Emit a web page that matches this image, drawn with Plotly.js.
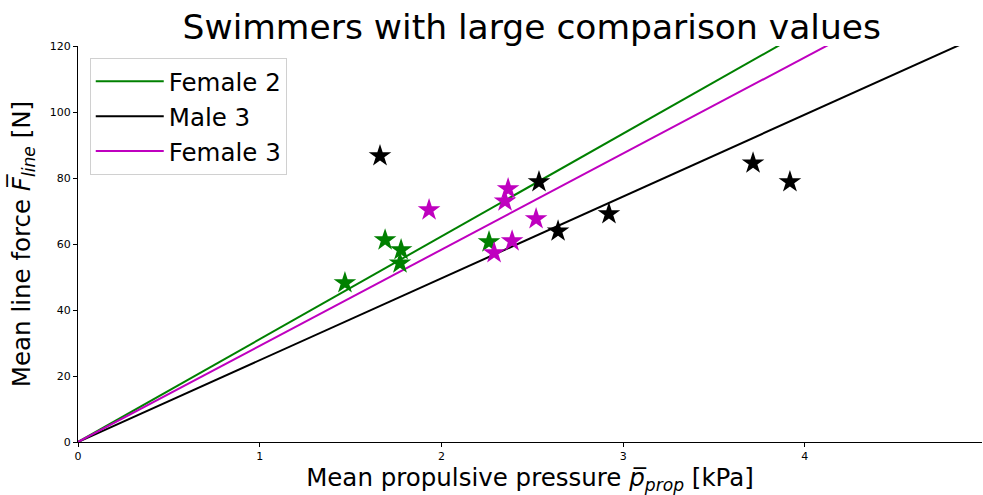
<!DOCTYPE html>
<html>
<head>
<meta charset="utf-8">
<script src="https://cdn.plot.ly/plotly-3.0.1.min.js"></script>
<style>html,body{margin:0;padding:0;background:#fff;}#chart{width:983px;height:495px;}</style>
</head>
<body>
<div id="chart"></div>
<script>
// Fitted lines (through origin) - endpoints
const seriesNames = ["Female 2", "Male 3", "Female 3"];
const seriesColors = ["#008000", "#000000", "#bf00bf"];
const lineX = [[0, 4.0], [0, 5.0], [0, 4.3]];
const lineY = [[0, 124.6], [0, 124.0], [0, 125.3]];

// Measured points
const female2X = [1.469, 1.690, 1.778, 1.772, 2.262];
const female2Y = [48.2, 61.2, 58.2, 54.2, 60.6];
const male3X = [1.662, 2.537, 2.642, 2.922, 3.715, 3.918];
const male3Y = [86.7, 78.8, 63.9, 69.1, 84.5, 78.8];
const female3X = [1.932, 2.367, 2.350, 2.521, 2.389, 2.290];
const female3Y = [70.3, 76.7, 73.0, 67.6, 60.9, 57.3];

const pointsX = [female2X, male3X, female3X];
const pointsY = [female2Y, male3Y, female3Y];

const xTicks = [0, 1, 2, 3, 4];
const yTicks = [0, 20, 40, 60, 80, 100, 120];

const traces = [];
for (let i = 0; i < 3; i++) {
  traces.push({
    x: lineX[i], y: lineY[i], mode: "lines", name: seriesNames[i],
    line: {color: seriesColors[i], width: 2}, showlegend: true
  });
}
for (let i = 0; i < 3; i++) {
  traces.push({
    x: pointsX[i], y: pointsY[i], mode: "markers", name: seriesNames[i],
    marker: {symbol: "star", size: 17, color: seriesColors[i], line: {width: 0}},
    showlegend: false, cliponaxis: false
  });
}

const layout = {
  width: 983, height: 495,
  margin: {l: 78, r: 1, t: 46, b: 53},
  paper_bgcolor: "#fff", plot_bgcolor: "#fff",
  font: {family: "DejaVu Sans, sans-serif", color: "#000"},
  title: {text: "Swimmers with large comparison values", x: 0.541, xanchor: "center", y: 0.945, yanchor: "middle",
          font: {size: 34.5, family: "DejaVu Sans, sans-serif", color: "#000"}},
  xaxis: {
    range: [0, 4.975], tickvals: xTicks, ticktext: xTicks.map(String),
    showgrid: false, zeroline: false, showline: true, linecolor: "#000", linewidth: 1,
    ticks: "outside", ticklen: 4, tickcolor: "#000", tickfont: {size: 11},
    title: {text: "Mean propulsive pressure <i>p̅</i><sub><i>prop</i></sub> [kPa]", font: {size: 24.5}, standoff: 6}
  },
  yaxis: {
    range: [0, 120], tickvals: yTicks, ticktext: yTicks.map(String),
    showgrid: false, zeroline: false, showline: true, linecolor: "#000", linewidth: 1,
    ticks: "outside", ticklen: 4, tickcolor: "#000", tickfont: {size: 11},
    title: {text: "Mean line force <i>F̅</i><sub><i>line</i></sub> [N]", font: {size: 24.5}, standoff: 12}
  },
  legend: {
    x: 0.013, y: 0.97, xanchor: "left", yanchor: "top",
    bgcolor: "rgba(255,255,255,0.9)", bordercolor: "#d0d0d0", borderwidth: 1,
    font: {size: 24.5}, itemwidth: 68, tracegroupgap: 0
  },
  showlegend: true
};

Plotly.newPlot("chart", traces, layout, {displayModeBar: false, staticPlot: true});
</script>
</body>
</html>
